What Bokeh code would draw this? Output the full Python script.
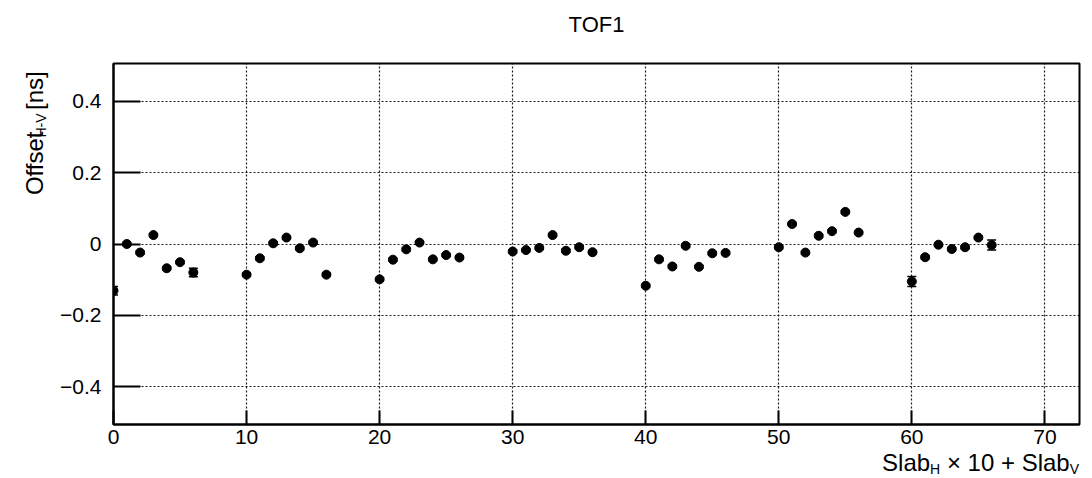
import math
from bokeh.plotting import figure
from bokeh.layouts import row, column
from bokeh.models import (ColumnDataSource, Range1d, FixedTicker, Label, Whisker, TeeHead)
from bokeh.embed import file_html
from bokeh.resources import INLINE

# ---------------- data ----------------
slab = [0, 1, 2, 3, 4, 5, 6,
        10, 11, 12, 13, 14, 15, 16,
        20, 21, 22, 23, 24, 25, 26,
        30, 31, 32, 33, 34, 35, 36,
        40, 41, 42, 43, 44, 45, 46,
        50, 51, 52, 53, 54, 55, 56,
        60, 61, 62, 63, 64, 65, 66]
offset = [-0.131, 0.000, -0.024, 0.025, -0.068, -0.051, -0.080,
          -0.086, -0.040, 0.002, 0.018, -0.012, 0.004, -0.086,
          -0.099, -0.044, -0.015, 0.004, -0.043, -0.031, -0.038,
          -0.021, -0.017, -0.011, 0.025, -0.019, -0.009, -0.023,
          -0.117, -0.043, -0.063, -0.005, -0.064, -0.026, -0.025,
          -0.009, 0.056, -0.024, 0.023, 0.036, 0.090, 0.032,
          -0.105, -0.037, -0.002, -0.014, -0.009, 0.018, -0.003]
error = [0.012, 0.004, 0.004, 0.004, 0.004, 0.004, 0.012,
         0.004, 0.004, 0.004, 0.004, 0.004, 0.004, 0.004,
         0.004, 0.004, 0.004, 0.004, 0.004, 0.004, 0.004,
         0.004, 0.004, 0.004, 0.004, 0.004, 0.004, 0.004,
         0.004, 0.004, 0.004, 0.004, 0.004, 0.004, 0.004,
         0.004, 0.004, 0.004, 0.004, 0.004, 0.004, 0.004,
         0.014, 0.004, 0.004, 0.004, 0.004, 0.004, 0.014]
x_ticks = [0, 10, 20, 30, 40, 50, 60, 70]
y_ticks = [-0.4, -0.2, 0, 0.2, 0.4]
y_tick_labels = ["\u22120.4", "\u22120.2", "0", "0.2", "0.4"]
title_text = "TOF1"
# (text, is_subscript, leading gap in em)
xlabel_parts = [("Slab", False, 0.0), ("H", True, 0.0), ("\u00d7 10 + Slab", False, 0.278), ("V", True, 0.0)]
ylabel_parts = [("Offset", False, 0.0), ("H-V", True, 0.0), ("[ns]", False, 0.278)]

# ---------------- layout constants (pixels) ----------------
FONT = "Liberation Sans"
XMIN, XMAX = 0, 72.6
YMIN, YMAX = -0.506, 0.506
TOTAL_W, TOTAL_H = 1092, 478
LEFT_W = 55          # width of the y-title strip
TOP_H = 50           # height of the title strip
MID_H = 402          # height of the main plot row
OVERLAP = 8          # x-title strip overlaps the main row by this much
BOT_H = TOTAL_H - TOP_H - MID_H + OVERLAP
MAIN_W = TOTAL_W - LEFT_W
FRAME_L, FRAME_R, FRAME_T, FRAME_B = 113, 1079, 63, 424
MAIN = 24
SUB = 14
SUBSHIFT = 3
MID = 0.35           # baseline -> vertical text middle, in em

W = {'S': 667, 'l': 222, 'a': 556, 'b': 556, ' ': 278, '\u00d7': 584, '1': 556, '0': 556,
     '+': 584, 'H': 722, 'V': 667, 'O': 778, 'f': 278, 's': 500, 'e': 556, 't': 278,
     '-': 333, '[': 278, 'n': 556, ']': 278}


def tw(s, size):
    return sum(W.get(c, 556) for c in s) / 1000.0 * size


def text_strip(w, h, transparent=False, **kw):
    f = figure(width=w, height=h, output_backend="svg", toolbar_location=None,
               x_range=Range1d(0, w), y_range=Range1d(0, h),
               x_axis_location=None, y_axis_location=None,
               min_border=0, min_border_left=0, min_border_right=0,
               min_border_top=0, min_border_bottom=0, **kw)
    f.outline_line_color = None
    f.xgrid.visible = False
    f.ygrid.visible = False
    f.background_fill_color = "white"
    f.border_fill_color = "white"
    if transparent:
        f.background_fill_alpha = 0
        f.border_fill_alpha = 0
    return f


src = ColumnDataSource(dict(
    x=slab, y=offset,
    upper=[o + e for o, e in zip(offset, error)],
    lower=[o - e for o, e in zip(offset, error)],
))

# ---------------- main plot ----------------
p = figure(width=MAIN_W, height=MID_H, output_backend="svg", toolbar_location=None,
           x_range=Range1d(XMIN, XMAX), y_range=Range1d(YMIN, YMAX),
           min_border_left=FRAME_L - LEFT_W, min_border_right=TOTAL_W - FRAME_R,
           min_border_top=FRAME_T - TOP_H, min_border_bottom=TOP_H + MID_H - FRAME_B)
p.background_fill_color = "white"
p.border_fill_color = "white"
p.outline_line_color = "black"
p.outline_line_width = 2

for ax in (p.xaxis[0], p.yaxis[0]):
    ax.axis_line_color = "black"
    ax.axis_line_width = 2
    ax.major_tick_line_color = "black"
    ax.major_tick_line_width = 2
    ax.major_tick_out = 0
    ax.minor_tick_line_color = None
    ax.major_label_text_font = FONT
    ax.major_label_text_font_size = "21px"
    ax.major_label_text_color = "black"

p.xaxis.ticker = FixedTicker(ticks=x_ticks)
p.yaxis.ticker = FixedTicker(ticks=y_ticks)
p.yaxis.major_label_overrides = {t: l for t, l in zip(y_ticks, y_tick_labels)}
p.xaxis.major_tick_in = 14
p.yaxis.major_tick_in = 27
p.xaxis.major_label_standoff = 5
p.yaxis.major_label_standoff = 12

for g in (p.xgrid[0], p.ygrid[0]):
    g.grid_line_color = "black"
    g.grid_line_width = 1.2
    g.grid_line_dash = "2 2"
    g.grid_line_alpha = 0.9

p.add_layout(Whisker(source=src, base="x", upper="upper", lower="lower",
                     line_color="black", line_width=1.5,
                     upper_head=TeeHead(size=9, line_color="black", line_width=1.5),
                     lower_head=TeeHead(size=9, line_color="black", line_width=1.5)))
p.scatter("x", "y", source=src, size=9, marker="circle", fill_color="black", line_color="black")

# ---------------- title strip (full width) ----------------
tfig = text_strip(TOTAL_W, TOP_H)
tfig.add_layout(Label(x=(FRAME_L + FRAME_R) / 2, y=TOP_H - (31.7 - MID * 22),
                      text=title_text, text_font=FONT, text_font_size="22px",
                      text_align="center", text_baseline="middle", text_color="black"))

# ---------------- x-title strip (full width, overlapping slightly, transparent) ----------------
xfig = text_strip(TOTAL_W, BOT_H, transparent=True, margin=(-OVERLAP, 0, 0, 0))
xl_total = sum(tw(t, SUB if s else MAIN) + g * (SUB if s else MAIN) for t, s, g in xlabel_parts)
pos = (FRAME_R - 0.5) - xl_total
for t, s, g in xlabel_parts:
    size = SUB if s else MAIN
    pos += g * size
    baseline = 470.5 + (SUBSHIFT if s else 0)
    xfig.add_layout(Label(x=pos, y=TOTAL_H - (baseline - MID * size),
                          text=t, text_font=FONT, text_font_size=f"{size}px",
                          text_align="left", text_baseline="middle", text_color="black"))
    pos += tw(t, size)

# ---------------- y-title strip ----------------
yfig = text_strip(LEFT_W, MID_H)
yl_total = sum(tw(t, SUB if s else MAIN) + g * (SUB if s else MAIN) for t, s, g in ylabel_parts)
pos = (TOP_H + MID_H - FRAME_T) - yl_total
for t, s, g in ylabel_parts:
    size = SUB if s else MAIN
    pos += g * size
    baseline_x = 42.5 + (SUBSHIFT if s else 0)
    yfig.add_layout(Label(x=baseline_x - MID * size, y=pos, angle=math.pi / 2,
                          text=t, text_font=FONT, text_font_size=f"{size}px",
                          text_align="left", text_baseline="middle", text_color="black"))
    pos += tw(t, size)

layout = column(tfig, row(yfig, p, spacing=0), xfig, spacing=0)
open("out.html", "w").write(file_html(layout, INLINE))
